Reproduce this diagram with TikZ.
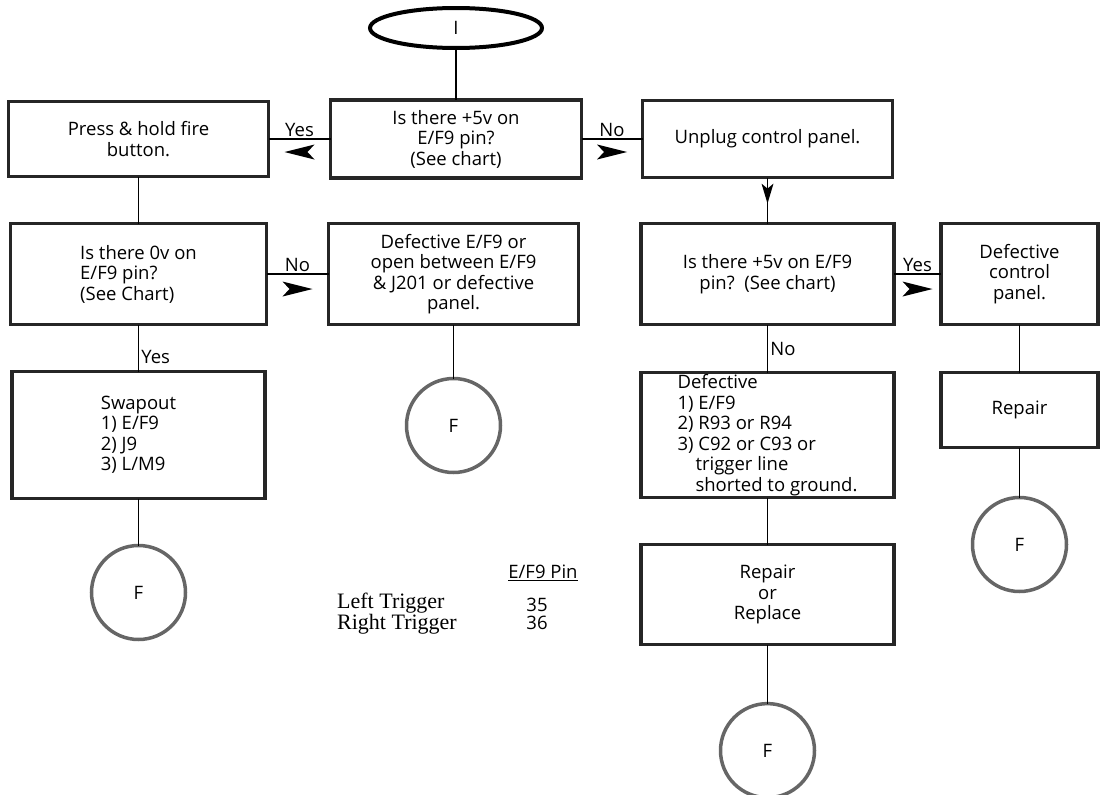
\documentclass[tikz,border=0pt]{standalone}
\usepackage{fontspec}
\setmainfont{Liberation Serif}
\newfontfamily\chartsans{Open Sans}
\newcommand{\boxfont}{\chartsans\fontsize{18.5}{20.5}\selectfont}
\newcommand{\pinfont}{\rmfamily\fontsize{22}{18}\selectfont}
\usetikzlibrary{positioning,shapes.geometric,decorations.markings}

\begin{document}
\begin{tikzpicture}[
    x=1pt, y=-1pt,
    node distance=47pt and 62pt,
    stepbox/.style={draw=black!85, line width=3.5pt, align=center, font=\boxfont, minimum width=252pt, minimum height=77pt, inner sep=4pt, outer sep=0pt},
    startbox/.style={draw, ellipse, line width=4pt, minimum width=172pt, minimum height=40pt, font=\boxfont, outer sep=0pt},
    endcirc/.style={draw=black!60, circle, line width=3.5pt, minimum size=94pt, font=\boxfont, outer sep=0pt},
    link/.style={line width=1.6pt},
    lbl/.style={font=\boxfont, inner sep=2pt},
    flow/.style={postaction={decorate}, decoration={markings, mark=at position .5 with {\fill[yshift=#1] (15pt,0pt) -- (-15pt,7.5pt) -- (-8pt,0pt) -- (-15pt,-7.5pt) -- cycle;}}},
    drop/.style={postaction={decorate}, decoration={markings, mark=at position .35 with {\fill (10pt,0pt) -- (-10pt,6pt) -- (-5pt,0pt) -- (-10pt,-6pt) -- cycle;}}}
]
\useasboundingbox (0,0) rectangle (1103,795);

% top row
\node[startbox] (start) at (456,28) {I};
\node[stepbox, below=52pt of start, minimum width=251pt, minimum height=78pt] (ask5v) {Is there +5v on\\E/F9 pin?\\(See chart)};
\node[stepbox, left=of ask5v, minimum width=260pt, minimum height=75pt] (press) {Press \& hold fire\\button.};
\node[stepbox, right=61pt of ask5v, minimum width=250pt] (unplug) {Unplug control panel.};

% left branch
\node[stepbox, below=of press, minimum width=256pt, minimum height=101pt, align=left] (ask0v) {Is there 0v on\\E/F9 pin?\\(See Chart)};
\node[stepbox, right=of ask0v, minimum width=250pt, minimum height=101pt] (badpanel) {Defective E/F9 or\\open between E/F9\\\& J201 or defective\\panel.};
\node[endcirc, below=54pt of badpanel] (endmid) {F};
\node[stepbox, below=of ask0v, minimum width=253pt, minimum height=127pt, align=left] (swap) {Swapout\\1) E/F9\\2) J9\\3) L/M9};
\node[endcirc, below=of swap] (endleft) {F};

% right branch
\node[stepbox, below=46pt of unplug, minimum width=253pt, minimum height=101pt] (ask5vb) {Is there +5v on E/F9\\pin?\ \ (See chart)};
\node[stepbox, right=47pt of ask5vb, minimum width=157pt, minimum height=101pt] (badctrl) {Defective\\control\\panel.};
\node[stepbox, below=48pt of badctrl, minimum width=157pt, minimum height=75pt] (repair) {Repair};
\node[endcirc, below=50pt of repair] (endright) {F};
\node[stepbox, below=48pt of ask5vb, minimum width=253pt, minimum height=122pt, align=left, inner sep=2pt] (defect) {Defective\\1) E/F9\\2) R93 or R94\\3) C92 or C93 or\\\hspace*{18pt}trigger line\\\hspace*{18pt}shorted to ground.};
\node[stepbox, below=of defect, minimum width=253pt, minimum height=100pt] (fix) {Repair\\or\\Replace};
\node[endcirc, below=59pt of fix] (endbot) {F};

% pin chart
\node[font=\boxfont, inner sep=0pt] (pinhead) at (543,573) {\underline{E/F9 Pin}};
\node[font=\pinfont, align=left, anchor=west, inner sep=0pt] (trigs) at (337,614) {Left Trigger\\Right Trigger};
\node[font=\chartsans\fontsize{18.5}{18}\selectfont, align=center, inner sep=0pt] (pinnums) at (537,614) {35\\36};

% connectors
\draw[link] (start) -- (ask5v);
\draw[link, flow=13pt] (ask5v) -- node[lbl, above]{Yes} (press);
\draw[link, flow=-13pt] (ask5v) -- node[lbl, above]{No} (unplug);
\draw[link] (press) -- (ask0v);
\draw[link, flow=-15pt] (ask0v) -- node[lbl, above]{No} (badpanel);
\draw[link] (ask0v) -- node[lbl, right, pos=.7]{Yes} (swap);
\draw[link] (swap) -- (endleft);
\draw[link] (badpanel) -- (endmid);
\draw[link, drop] (unplug) -- (ask5vb);
\draw[link, flow=-15pt] (ask5vb) -- node[lbl, above]{Yes} (badctrl);
\draw[link] (ask5vb) -- node[lbl, right, pos=.5]{No} (defect);
\draw[link] (defect) -- (fix);
\draw[link] (fix) -- (endbot);
\draw[link] (badctrl) -- (repair);
\draw[link] (repair) -- (endright);
\end{tikzpicture}
\end{document}
